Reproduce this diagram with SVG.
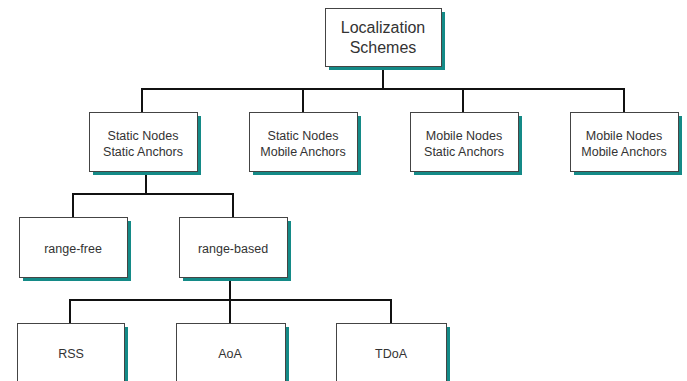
<svg xmlns="http://www.w3.org/2000/svg" width="687" height="381" viewBox="0 0 687 381">
<defs>
<style>
.sh{fill:#148a87}
.bx{fill:#fff;stroke:#444;stroke-width:1}
.t{font-family:"Liberation Sans",Arial,sans-serif;font-size:12.5px;fill:#333;text-anchor:middle}
.tl{font-family:"Liberation Sans",Arial,sans-serif;font-size:16px;fill:#333;text-anchor:middle}
.c{fill:none;stroke:#111;stroke-width:2}
</style>
</defs>
<rect width="687" height="381" fill="#fff"/>
<g id="connectors">
<path class="c" d="M383 66V89M142 112V89H624V112M303 89V112M463 89V112"/>
<path class="c" d="M146 171V194M73 217V194H233V217"/>
<path class="c" d="M230 277V300M70 323V300H391V323M230 300V323"/>
</g>
<g id="root">
<rect class="sh" x="329" y="12" width="116" height="58"/>
<rect class="bx" x="325.5" y="8.5" width="116" height="58"/>
<text class="tl" x="383" y="33">Localization</text>
<text class="tl" x="383" y="53">Schemes</text>
</g>
<g id="ssa">
<rect class="sh" x="93" y="116" width="108" height="59"/>
<rect class="bx" x="89.5" y="112.5" width="108" height="59"/>
<text class="t" x="143" y="140">Static Nodes</text>
<text class="t" x="143" y="156">Static Anchors</text>
</g>
<g id="sma">
<rect class="sh" x="253" y="116" width="108" height="59"/>
<rect class="bx" x="249.5" y="112.5" width="108" height="59"/>
<text class="t" x="303" y="140">Static Nodes</text>
<text class="t" x="303" y="156">Mobile Anchors</text>
</g>
<g id="msa">
<rect class="sh" x="414" y="116" width="108" height="59"/>
<rect class="bx" x="410.5" y="112.5" width="108" height="59"/>
<text class="t" x="464" y="140">Mobile Nodes</text>
<text class="t" x="464" y="156">Static Anchors</text>
</g>
<g id="mma">
<rect class="sh" x="574" y="116" width="108" height="59"/>
<rect class="bx" x="570.5" y="112.5" width="108" height="59"/>
<text class="t" x="624" y="140">Mobile Nodes</text>
<text class="t" x="624" y="156">Mobile Anchors</text>
</g>
<g id="rangefree">
<rect class="sh" x="23" y="221" width="108" height="60"/>
<rect class="bx" x="19.5" y="217.5" width="108" height="60"/>
<text class="t" x="73" y="253">range-free</text>
</g>
<g id="rangebased">
<rect class="sh" x="183" y="221" width="108" height="60"/>
<rect class="bx" x="179.5" y="217.5" width="108" height="60"/>
<text class="t" x="233" y="253">range-based</text>
</g>
<g id="rss">
<rect class="sh" x="21" y="327" width="107" height="60"/>
<rect class="bx" x="17.5" y="323.5" width="107" height="70"/>
<text class="t" x="71" y="358">RSS</text>
</g>
<g id="aoa">
<rect class="sh" x="180" y="327" width="109" height="60"/>
<rect class="bx" x="176.5" y="323.5" width="109" height="70"/>
<text class="t" x="230" y="358">AoA</text>
</g>
<g id="tdoa">
<rect class="sh" x="340" y="327" width="110" height="60"/>
<rect class="bx" x="336.5" y="323.5" width="110" height="70"/>
<text class="t" x="391" y="358">TDoA</text>
</g>
</svg>
